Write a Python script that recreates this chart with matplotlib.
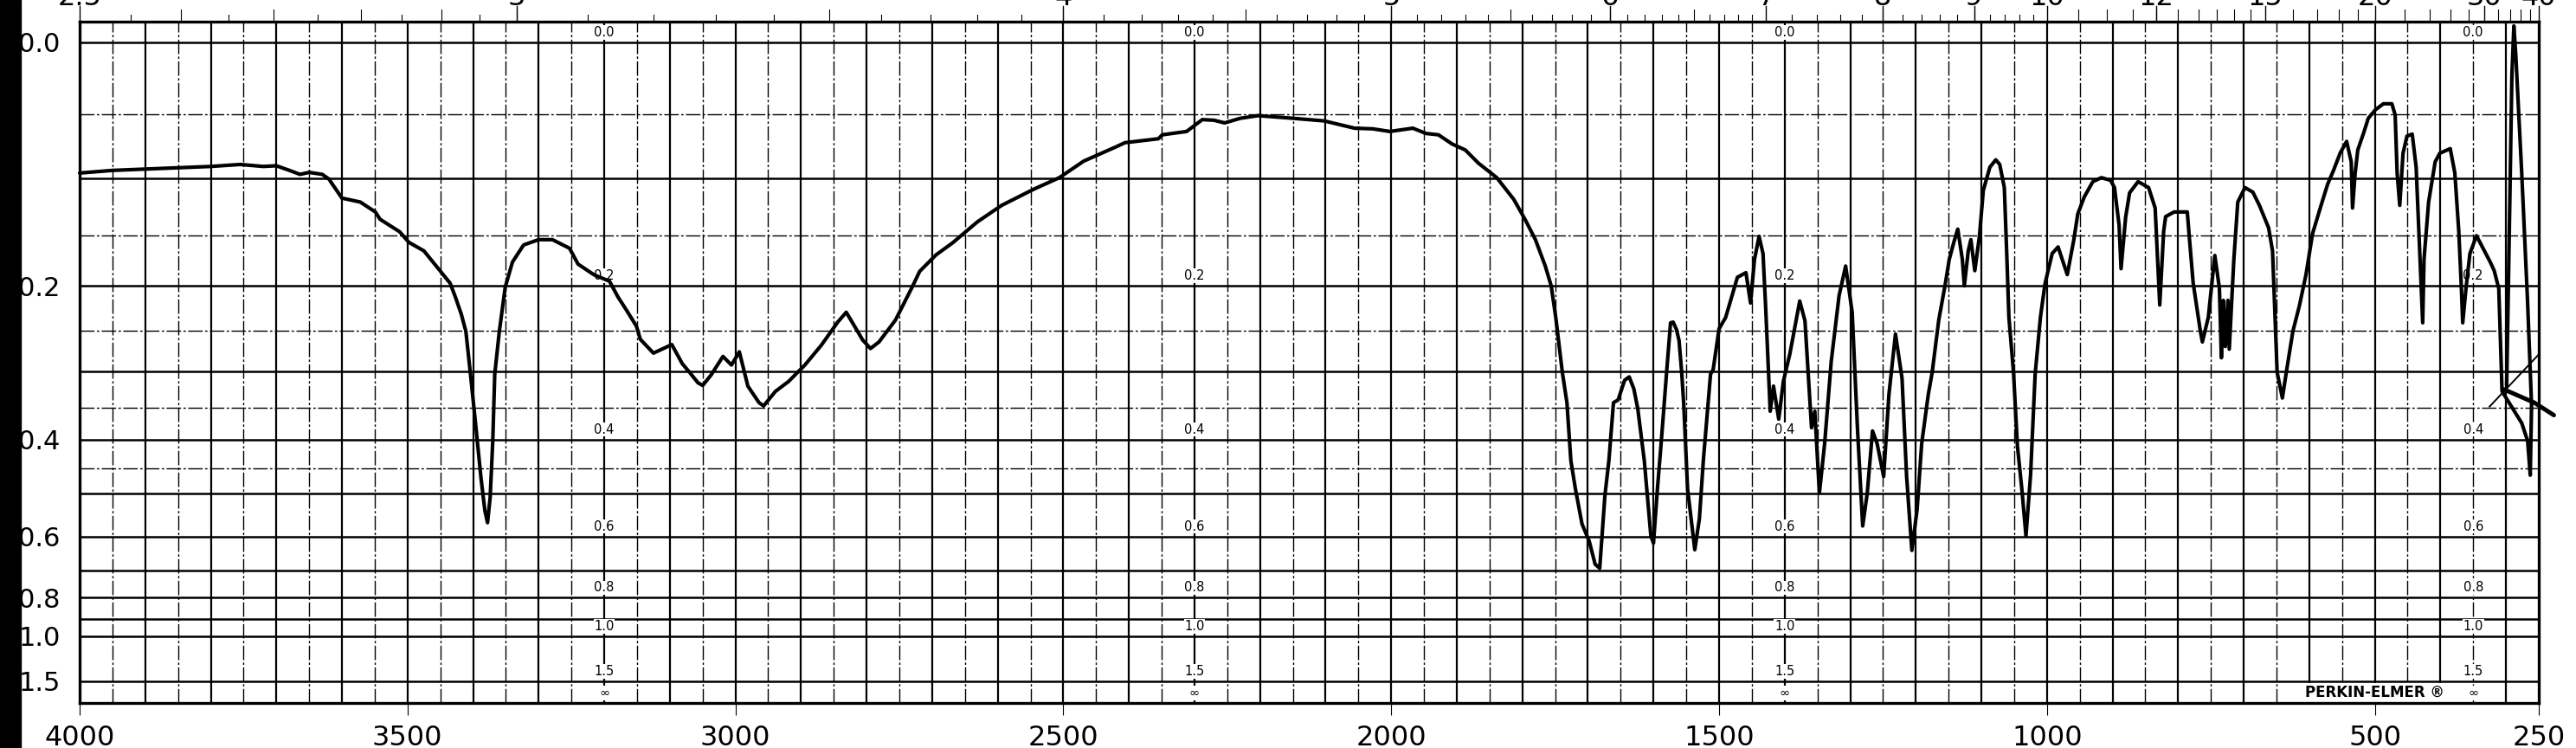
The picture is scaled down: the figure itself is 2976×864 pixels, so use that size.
import numpy as np
import matplotlib
matplotlib.use("Agg")
import matplotlib.pyplot as plt

# ---- data: wavenumber (cm-1) and transmittance (0..1) ----
wavenumber = [
    4000, 3950, 3900, 3850, 3800, 3755, 3720, 3700, 3680, 3664, 3650, 3630, 3620, 3600,
    3572, 3549, 3542, 3512, 3498, 3475, 3448, 3435, 3427, 3418, 3411, 3404, 3396, 3388,
    3382, 3378, 3374, 3370, 3367, 3360, 3351, 3340, 3323, 3300, 3279, 3253, 3240, 3216,
    3192, 3179, 3166, 3151, 3145, 3125, 3112, 3097, 3081, 3070, 3057, 3050, 3037, 3019,
    3006, 2994, 2981, 2964, 2957, 2939, 2919, 2894, 2869, 2844, 2831, 2819, 2806, 2794,
    2781, 2756, 2731, 2719, 2694, 2669, 2631, 2594, 2544, 2506, 2469, 2419, 2406, 2355,
    2349, 2312, 2288, 2270, 2254, 2230, 2203, 2150, 2102, 2056, 2028, 2002, 1967, 1947,
    1928, 1907, 1887, 1867, 1839, 1813, 1796, 1780, 1765, 1756, 1749, 1739, 1732, 1726,
    1719, 1709, 1698, 1689, 1682, 1674, 1668, 1661, 1654, 1644, 1637, 1630, 1624, 1614,
    1604, 1600, 1594, 1587, 1580, 1574, 1570, 1565, 1561, 1557, 1554, 1548, 1537, 1530,
    1524, 1513, 1509, 1500, 1490, 1472, 1459, 1452, 1446, 1439, 1433, 1429, 1422, 1417,
    1409, 1402, 1392, 1377, 1369, 1359, 1354, 1347, 1339, 1329, 1317, 1307, 1297, 1289,
    1281, 1274, 1266, 1259, 1249, 1241, 1231, 1221, 1214, 1206, 1198, 1191, 1181, 1175,
    1165, 1155, 1149, 1142, 1136, 1129, 1126, 1120, 1116, 1110, 1103, 1097, 1087, 1078,
    1072, 1065, 1061, 1058, 1051, 1045, 1038, 1032, 1025, 1018, 1010, 1003, 992, 983,
    969, 959, 953, 943, 930, 917, 903, 897, 890, 887, 880, 874, 861, 845, 835, 828, 822,
    819, 806, 786, 783, 777, 766, 763, 754, 744, 737, 734, 731, 728, 724, 722, 715, 709,
    698, 686, 676, 662, 656, 649, 641, 635, 625, 615, 605, 595, 582, 572, 563, 553, 543,
    536, 534, 530, 526, 517, 510, 499, 487, 474, 469, 466, 462, 457, 451, 443, 437, 431,
    427, 425, 418, 408, 401, 385, 378, 372, 368, 366, 361, 355, 345, 335, 324, 318, 311,
    306, 276, 267, 263, 261, 267, 276, 285, 288, 291, 296, 299,
]
transmittance = [
    0.802, 0.806, 0.808, 0.810, 0.812, 0.815, 0.812, 0.813, 0.806, 0.800, 0.803, 0.800, 0.793, 0.764,
    0.758, 0.743, 0.732, 0.713, 0.697, 0.684, 0.651, 0.635, 0.614, 0.588, 0.562, 0.497, 0.420, 0.340,
    0.290, 0.272, 0.310, 0.396, 0.497, 0.562, 0.629, 0.667, 0.693, 0.701, 0.701, 0.688, 0.664, 0.648,
    0.638, 0.614, 0.594, 0.570, 0.550, 0.529, 0.535, 0.542, 0.513, 0.500, 0.484, 0.480, 0.496, 0.524,
    0.511, 0.531, 0.479, 0.454, 0.449, 0.471, 0.486, 0.511, 0.541, 0.576, 0.591, 0.571, 0.549, 0.536,
    0.546, 0.579, 0.628, 0.653, 0.678, 0.696, 0.728, 0.753, 0.778, 0.795, 0.820, 0.842, 0.848, 0.854,
    0.860, 0.865, 0.883, 0.882, 0.878, 0.885, 0.889, 0.885, 0.881, 0.870, 0.869, 0.865, 0.870, 0.862,
    0.860, 0.846, 0.837, 0.817, 0.795, 0.762, 0.732, 0.701, 0.661, 0.631, 0.583, 0.500, 0.454, 0.366,
    0.323, 0.270, 0.244, 0.209, 0.203, 0.314, 0.366, 0.454, 0.458, 0.488, 0.493, 0.475, 0.445, 0.366,
    0.252, 0.241, 0.323, 0.409, 0.500, 0.575, 0.576, 0.565, 0.548, 0.500, 0.454, 0.323, 0.231, 0.278,
    0.366, 0.497, 0.504, 0.566, 0.583, 0.644, 0.651, 0.605, 0.671, 0.706, 0.680, 0.600, 0.441, 0.479,
    0.429, 0.486, 0.528, 0.608, 0.578, 0.416, 0.441, 0.317, 0.392, 0.516, 0.616, 0.661, 0.591, 0.416,
    0.267, 0.317, 0.411, 0.392, 0.342, 0.466, 0.558, 0.491, 0.342, 0.230, 0.292, 0.392, 0.466, 0.500,
    0.579, 0.634, 0.671, 0.697, 0.717, 0.671, 0.631, 0.684, 0.701, 0.654, 0.706, 0.776, 0.811, 0.822,
    0.815, 0.780, 0.671, 0.583, 0.500, 0.388, 0.320, 0.252, 0.344, 0.497, 0.583, 0.634, 0.680, 0.690,
    0.648, 0.701, 0.740, 0.766, 0.789, 0.795, 0.791, 0.780, 0.723, 0.657, 0.735, 0.772, 0.789, 0.780, 0.749, 0.602, 0.714,
    0.736, 0.743, 0.743, 0.706, 0.635, 0.562, 0.546, 0.583, 0.677, 0.627, 0.522, 0.609, 0.539, 0.609, 0.535, 0.671, 0.758,
    0.780, 0.773, 0.753, 0.719, 0.684, 0.500, 0.461, 0.500, 0.562, 0.601, 0.648, 0.710, 0.753, 0.785, 0.806, 0.832, 0.850,
    0.819, 0.749, 0.802, 0.837, 0.863, 0.885, 0.898, 0.907, 0.907, 0.890, 0.802, 0.753, 0.832, 0.858, 0.861, 0.811, 0.671,
    0.575, 0.671, 0.758, 0.819, 0.832, 0.839, 0.802, 0.714, 0.627, 0.575, 0.627, 0.680, 0.707, 0.688, 0.667, 0.654, 0.627,
    0.471, 0.423, 0.396, 0.344, 0.450, 0.605, 0.802, 0.980, 1.025, 0.950, 0.650, 0.480,
]

# stray pen strokes past the end of the scan
stroke_thick_nu = [303, 257, 227]
stroke_thick_t = [0.474, 0.454, 0.435]
stroke_thin_nu = [325, 251]
stroke_thin_t = [0.448, 0.526]

# chart scales
bottom_ticks = [4000, 3500, 3000, 2500, 2000, 1500, 1000, 500, 250]
bottom_labels = ["4000", "3500", "3000", "2500", "2000", "1500", "1000", "500", "250"]
micron_major = [2.5, 3, 4, 5, 6, 7, 8, 9, 10, 12, 15, 20, 30, 40]
micron_labels = ["2.5", "3", "4", "5", "6", "7", "8", "9", "10", "12", "15", "20", "30", "40"]
abs_major = [0.0, 0.1, 0.2, 0.3, 0.4, 0.5, 0.6, 0.7, 0.8, 0.9, 1.0, 1.5]
abs_minor = [0.05, 0.15, 0.25, 0.35, 0.45]
abs_labels = ["0.0", "0.2", "0.4", "0.6", "0.8", "1.0", "1.5"]
scale_positions = [3200, 2300, 1400, 350]

W, H = 2976, 864
fig = plt.figure(figsize=(W / 100, H / 100), dpi=100)
ax = fig.add_axes([92 / W, 52 / H, (2933 - 92) / W, (812 - 25) / H])
ax.set_xlim(4000, 250)
ax.set_ylim(-1 / 762, 1 + 24 / 762)
xtr = ax.get_xaxis_transform()

# vertical grid every 50 cm-1
for nu in range(3950, 250, -50):
    if nu % 100 == 0:
        ax.axvline(nu, color="black", lw=1.6, zorder=1)
    else:
        ax.axvline(nu, color="black", lw=1.0, ls=(0, (12, 2, 2, 2)), zorder=1)

# horizontal grid in absorbance units (linear transmittance axis)
for a in abs_major:
    ax.axhline(10 ** -a, color="black", lw=1.8, zorder=1)
for a in abs_minor:
    ax.axhline(10 ** -a, color="black", lw=1.0, ls=(0, (12, 2, 2, 2)), zorder=1)

# small absorbance scales printed on the grid
for pos in scale_positions:
    for lab in abs_labels:
        t = 10 ** -float(lab)
        ax.annotate(lab, (pos, t), xytext=(0, 4), textcoords="offset pixels",
                    ha="center", va="bottom", fontsize=10.5, zorder=2,
                    bbox=dict(boxstyle="square,pad=0.05", fc="white", ec="none"))
    ax.annotate("\u221e", (pos, 0), xytext=(0, 3), textcoords="offset pixels",
                ha="center", va="bottom", fontsize=10.5, zorder=2,
                bbox=dict(boxstyle="square,pad=0.05", fc="white", ec="none"))

ax.text(500, 0.0144, "PERKIN-ELMER \u00ae", ha="center", va="center", fontsize=12,
        fontweight="bold", zorder=2,
        bbox=dict(boxstyle="square,pad=0.15", fc="white", ec="none"))

# spectrum
ax.plot(wavenumber, transmittance, color="black", lw=3.0, solid_joinstyle="round",
        solid_capstyle="round", zorder=4, clip_on=False)
ax.plot(stroke_thick_nu, stroke_thick_t, color="black", lw=3.6, solid_capstyle="round",
        zorder=4, clip_on=False)
ax.plot(stroke_thin_nu, stroke_thin_t, color="black", lw=1.4, zorder=4, clip_on=False)

# frame
for s in ax.spines.values():
    s.set_linewidth(2.4)
    s.set_zorder(5)

# left absorbance labels
ax.set_yticks([10 ** -float(l) for l in abs_labels])
ax.set_yticklabels(abs_labels)
ax.tick_params(axis="y", length=0, pad=16, labelsize=22)

# bottom wavenumber scale
ax.set_xticks(bottom_ticks)
ax.set_xticklabels(bottom_labels)
ax.tick_params(axis="x", direction="out", length=10, width=0.8, pad=8, labelsize=23)

# top micron scale (labels run off the top of the scan)
minor_um = list(np.arange(2.55, 3.0, 0.05)) + list(np.arange(3.1, 7.0, 0.1)) + \
    list(np.arange(7.2, 10.0, 0.2)) + list(np.arange(10.5, 15.0, 0.5)) + \
    list(np.arange(16, 20, 1.0)) + list(np.arange(22, 30, 2.0)) + list(np.arange(32, 40, 2.0))
for um in minor_um:
    long_tick = abs(um * 10 - round(um * 10)) < 1e-6 and um < 3
    h = 14 / 787 if (long_tick or abs(um % 0.5) < 1e-6 or abs(um % 0.5 - 0.5) < 1e-6) else 8 / 787
    ax.plot([1e4 / um] * 2, [1, 1 + h], color="black", lw=0.8, transform=xtr, clip_on=False)
for um, lab in zip(micron_major, micron_labels):
    ax.plot([1e4 / um] * 2, [1, 1 + 18 / 787], color="black", lw=1.0, transform=xtr, clip_on=False)
    ax.text(1e4 / um, 1 + 19 / 787, lab, transform=xtr, ha="center", va="baseline",
            fontsize=23, clip_on=False)

# black edge of the scanned sheet
fig.add_artist(plt.Rectangle((0, 0), 24 / W, 1, transform=fig.transFigure,
                             color="black", zorder=10))

fig.savefig("out.png", dpi=100, facecolor="white")
